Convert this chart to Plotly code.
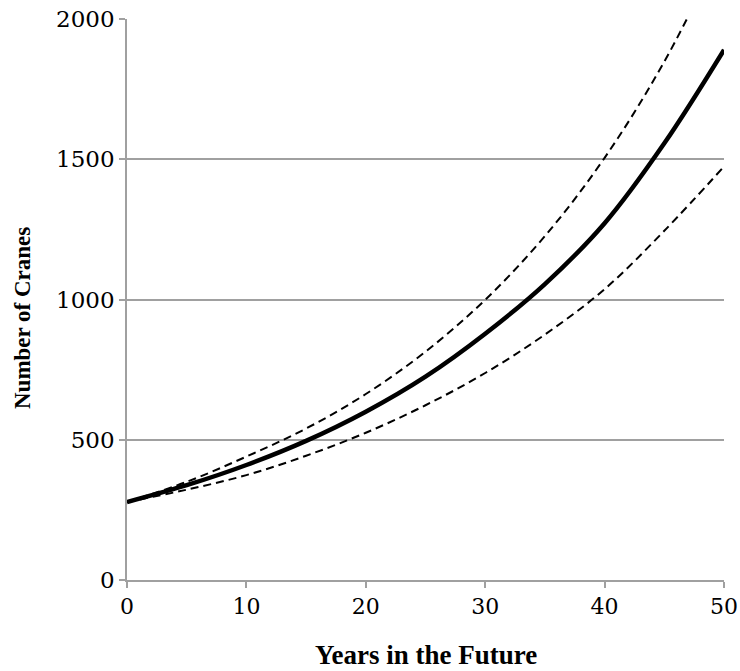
import plotly.graph_objects as go

years = [0, 5, 10, 15, 20, 25, 30, 35, 40, 45, 50]
cranes_mid = [278, 338, 410, 496, 600, 725, 878, 1055, 1272, 1557, 1890]
cranes_high = [278, 350, 440, 540, 663, 814, 999, 1226, 1505, 1848, 2268]
cranes_low = [278, 322, 374, 443, 525, 623, 738, 875, 1037, 1245, 1474]

x_ticks = [0, 10, 20, 30, 40, 50]
y_ticks = [0, 500, 1000, 1500, 2000]

fig = go.Figure()
fig.add_trace(go.Scatter(x=years, y=cranes_high, mode="lines",
                         line=dict(color="black", width=2, dash="8px,5px", shape="spline"),
                         showlegend=False))
fig.add_trace(go.Scatter(x=years, y=cranes_low, mode="lines",
                         line=dict(color="black", width=2, dash="8px,5px", shape="spline"),
                         showlegend=False))
fig.add_trace(go.Scatter(x=years, y=cranes_mid, mode="lines",
                         line=dict(color="black", width=4.5, shape="spline"),
                         showlegend=False))

axis_col = "#a0a0a0"
L, R, T, B, W, H = 127, 16, 19, 91, 740, 671
pw, ph = W - L - R, H - T - B

fig.update_layout(
    width=W, height=H,
    margin=dict(l=L, r=R, t=T, b=B),
    paper_bgcolor="white", plot_bgcolor="white",
    font=dict(family="DejaVu Serif", color="black"),
    xaxis=dict(range=[0, 50], tickvals=x_ticks, ticktext=[str(v) for v in x_ticks],
               automargin=False, ticklabeloverflow="allow",
               showgrid=False, zeroline=False, showline=True, linecolor=axis_col, linewidth=1.5,
               ticks="outside", ticklen=6, tickcolor=axis_col, tickwidth=1.5,
               tickfont=dict(size=22, family="DejaVu Serif")),
    yaxis=dict(range=[0, 2000], tickvals=y_ticks, ticktext=[str(v) for v in y_ticks],
               automargin=False, ticklabeloverflow="allow",
               showgrid=True, gridcolor=axis_col, gridwidth=1.5, zeroline=False,
               showline=True, linecolor=axis_col, linewidth=1.5,
               ticks="outside", ticklen=6, tickcolor=axis_col, tickwidth=1.5,
               tickfont=dict(size=23, family="DejaVu Serif")),
    annotations=[
        dict(text="<b>Years in the Future</b>", xref="paper", yref="paper",
             x=(426 - L) / pw, y=(H - B - 655) / ph, xanchor="center", yanchor="middle",
             showarrow=False, font=dict(size=27, family="Liberation Serif", color="black")),
        dict(text="<b>Number of Cranes</b>", xref="paper", yref="paper",
             x=(22 - L) / pw, y=(H - B - 318) / ph, xanchor="center", yanchor="middle",
             textangle=-90, showarrow=False,
             font=dict(size=23, family="Liberation Serif", color="black")),
    ],
)
fig.write_html("out.html", config={"displayModeBar": False},
               post_script="document.body.style.margin='0px';")
